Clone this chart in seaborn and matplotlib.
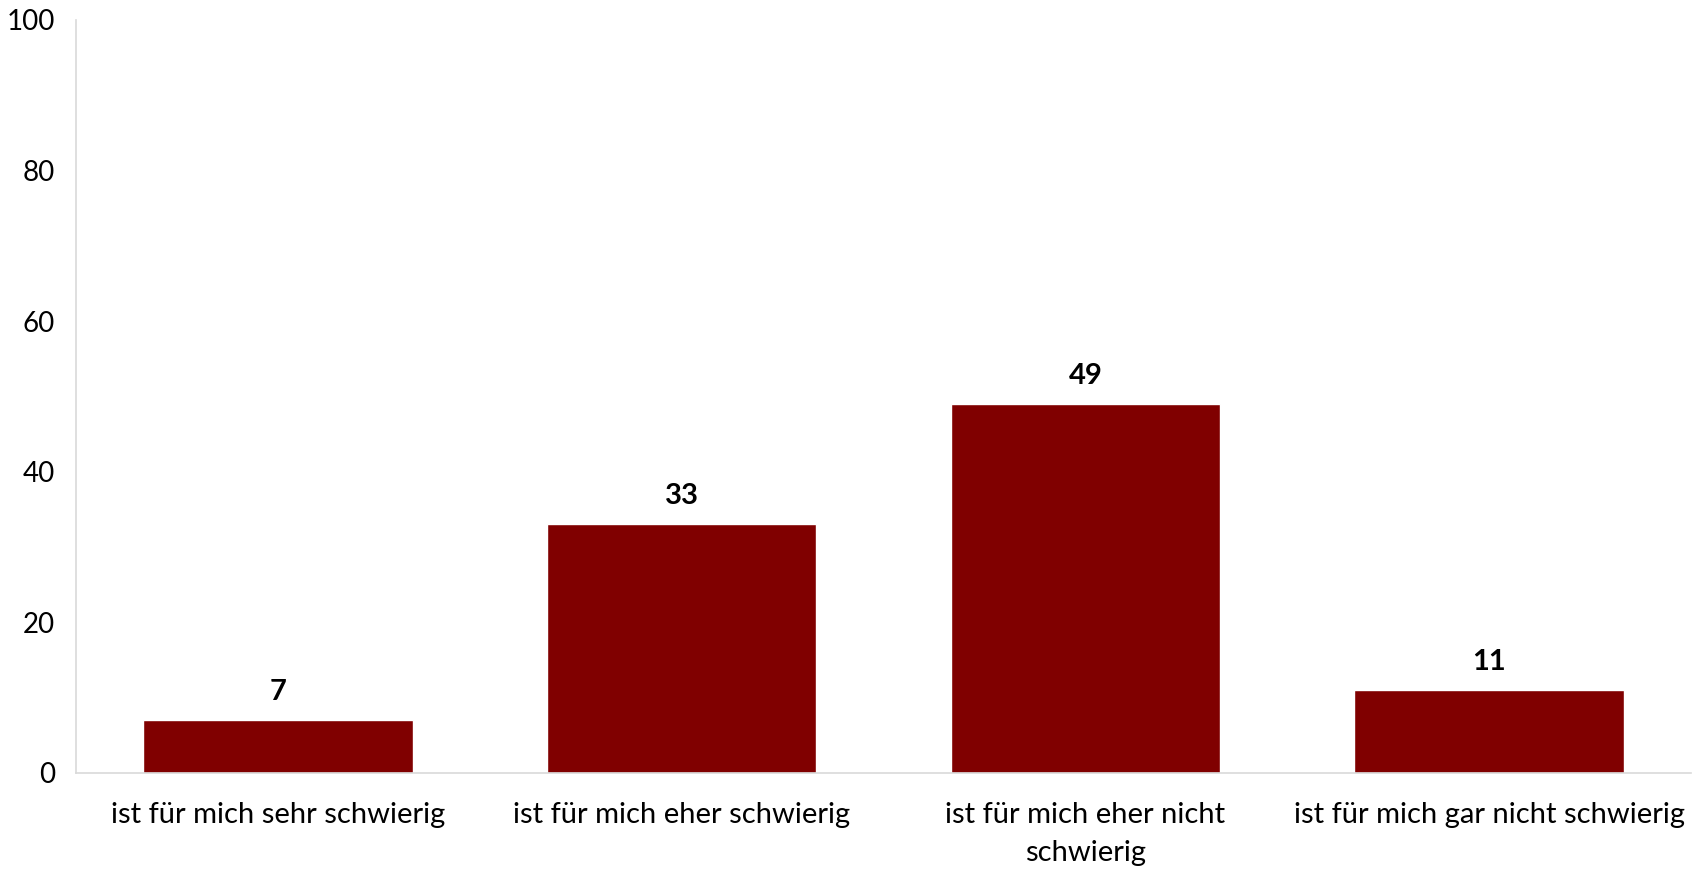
import numpy as np
import pandas as pd
import matplotlib
matplotlib.use("Agg")
import matplotlib.pyplot as plt
import seaborn as sns

# data
categories = ["ist für mich sehr schwierig", "ist für mich eher schwierig",
              "ist für mich eher nicht\nschwierig", "ist für mich gar nicht schwierig"]
values = [7, 33, 49, 11]
y_ticks = [0, 20, 40, 60, 80, 100]

sns.set_style("white")
plt.rcParams['font.family'] = ['Lato', 'DejaVu Sans']
plt.rcParams['text.color'] = 'black'
plt.rcParams['xtick.labelcolor'] = 'black'
plt.rcParams['ytick.labelcolor'] = 'black'

df = pd.DataFrame({"cat": categories, "val": values})

fig = plt.figure(figsize=(17.05, 8.69), dpi=100)
ax = fig.add_axes([0.0446, 0.1105, 0.9472, 0.8665])

sns.barplot(data=df, x="cat", y="val", color="#800000", width=0.667,
            saturation=1, ax=ax)

ax.bar_label(ax.containers[0], fontsize=21, fontweight="bold", padding=11,
             color="black")

ax.set_xlim(-0.5, len(categories) - 0.5)
ax.set_ylim(0, 100)
ax.set_yticks(y_ticks)
ax.set_xlabel("")
ax.set_ylabel("")

# separators between categories like the original
ax.set_xticks(np.arange(-0.5, len(categories)), minor=True)
ax.tick_params(axis="x", which="minor", length=11, width=1.2, color="#d9d9d9")
ax.tick_params(axis="x", which="major", length=0, pad=21, labelsize=21)
ax.tick_params(axis="y", length=0, pad=15, labelsize=20)
for lbl in ax.get_xticklabels():
    lbl.set_linespacing(1.55)

for side in ["top", "right"]:
    ax.spines[side].set_visible(False)
for side in ["left", "bottom"]:
    ax.spines[side].set_color("#d9d9d9")
    ax.spines[side].set_linewidth(1.2)

fig.savefig("out.png", dpi=100)
